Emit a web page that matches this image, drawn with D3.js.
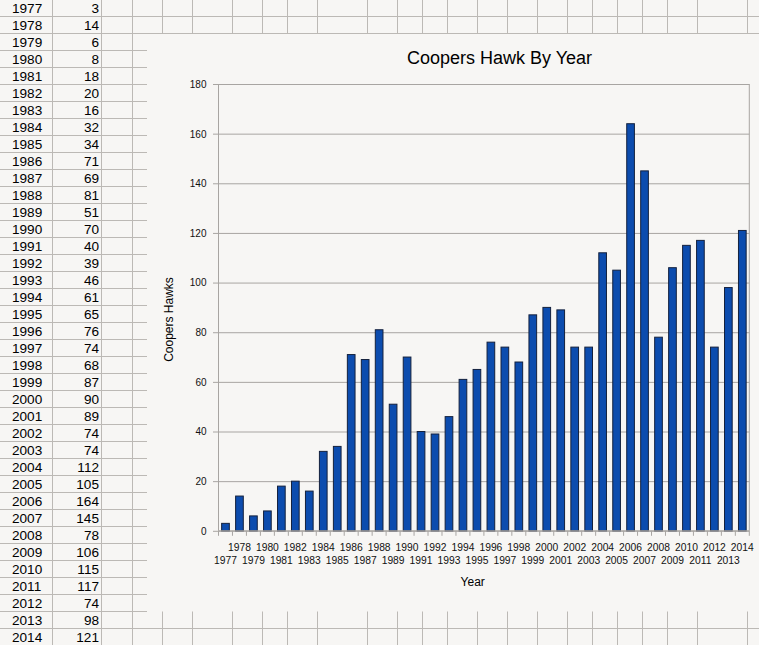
<!DOCTYPE html>
<html><head><meta charset="utf-8">
<script src="https://cdn.jsdelivr.net/npm/d3@7"></script>
<style>html,body{margin:0;padding:0;background:#f7f6f4;overflow:hidden}</style>
</head><body><svg id="c" width="759" height="645" style="display:block"></svg>
<script>
// ---- data ----
const years = [1977,1978,1979,1980,1981,1982,1983,1984,1985,1986,1987,1988,1989,1990,1991,1992,1993,1994,1995,1996,1997,1998,1999,2000,2001,2002,2003,2004,2005,2006,2007,2008,2009,2010,2011,2012,2013,2014];
const counts = [3,14,6,8,18,20,16,32,34,71,69,81,51,70,40,39,46,61,65,76,74,68,87,90,89,74,74,112,105,164,145,78,106,115,117,74,98,121];
const yTicks = [0,20,40,60,80,100,120,140,160,180];
const chartTitle = "Coopers Hawk By Year";
const xTitle = "Year";
const yTitle = "Coopers Hawks";

// ---- layout ----
const W = 759, H = 645;
const svg = d3.select("#c");
const FONT = "'Liberation Sans', Arial, Helvetica, sans-serif";
const gridCol = "#bcb9b5";
const rowH = 17, rowOff = 16.3;
const colEdges = [52,101,132,162,192,232,262,287,317,367,397,422,447,477,507,537,567,592,617,642,667,697,747];
const chartBox = {x0:147, y0:33.3, y1:611.5};

svg.append("rect").attr("width",W).attr("height",H).attr("fill","#f7f6f4");

// spreadsheet grid
const sheet = svg.append("g").attr("stroke",gridCol).attr("stroke-width",1);
for (let k = 0; k < 39; k++) {
  const yy = Math.round(rowOff + rowH*k) + 0.5;
  const full = (yy < chartBox.y0 + 1) || (yy > chartBox.y1 + 1);
  sheet.append("line").attr("x1",0).attr("x2", full ? W : chartBox.x0).attr("y1",yy).attr("y2",yy);
}
colEdges.forEach(cx => {
  const xx = Math.round(cx) + 0.5;
  if (cx < chartBox.x0) {
    sheet.append("line").attr("x1",xx).attr("x2",xx).attr("y1",0).attr("y2",H);
  } else {
    sheet.append("line").attr("x1",xx).attr("x2",xx).attr("y1",0).attr("y2",chartBox.y0);
    sheet.append("line").attr("x1",xx).attr("x2",xx).attr("y1",chartBox.y1).attr("y2",H);
  }
});
// cell texts
const cells = svg.append("g").attr("font-family",FONT).attr("font-size","13.6px").attr("fill","#000");
years.forEach((yr,i) => {
  const base = rowOff + rowH*(i-1) + 13.4;
  cells.append("text").attr("x",12).attr("y",base).text(yr);
  cells.append("text").attr("x",99).attr("y",base).attr("text-anchor","end").text(counts[i]);
});

// ---- chart ----
const plot = {l:218.5, r:749.3, t:84, b:530.8};
const x = d3.scaleBand().domain(years).range([plot.l, plot.r]).paddingInner(0.45).paddingOuter(0.225);
const y = d3.scaleLinear().domain([0,180]).range([plot.b, plot.t]);
const axisCol = "#a8a5a2";

// y axis with gridlines
const yAxis = d3.axisLeft(y).tickValues(yTicks).tickSizeInner(-(plot.r - 213)).tickSizeOuter(0).tickPadding(6.5);
const gy = svg.append("g").attr("transform","translate(213,0)").call(yAxis);
gy.select(".domain").remove();
gy.selectAll(".tick line").attr("stroke",axisCol);
gy.selectAll(".tick text").attr("font-family",FONT).attr("font-size","10px").attr("fill","#111").attr("dy","0.34em");

// axis lines / border
svg.append("line").attr("x1",plot.l).attr("x2",plot.l).attr("y1",plot.t).attr("y2",plot.b).attr("stroke",axisCol);
svg.append("line").attr("x1",plot.r).attr("x2",plot.r).attr("y1",plot.t).attr("y2",plot.b).attr("stroke",axisCol);

// bars
svg.append("g").selectAll("rect").data(years).join("rect")
  .attr("x", d => x(d))
  .attr("width", x.bandwidth())
  .attr("y", (d,i) => y(counts[i]))
  .attr("height", (d,i) => y(0) - y(counts[i]))
  .attr("fill","#0c4cae")
  .attr("stroke","#14213d")
  .attr("stroke-width",1);

// x axis: boundary ticks
const step = x.step();
const bounds = d3.range(years.length + 1).map(i => x.range()[0] + i*step);
svg.append("g").selectAll("line").data(bounds).join("line")
  .attr("x1",d=>d).attr("x2",d=>d).attr("y1",plot.b).attr("y2",plot.b+5).attr("stroke",axisCol);
svg.append("line").attr("x1",plot.l).attr("x2",plot.r).attr("y1",plot.b).attr("y2",plot.b).attr("stroke",axisCol);

// x labels (staggered)
const xAxis = d3.axisBottom(x).tickSize(0).tickPadding(0);
const gx = svg.append("g").attr("transform",`translate(0,${plot.b})`).call(xAxis);
gx.select(".domain").remove();
gx.selectAll(".tick text")
  .attr("font-family",FONT).attr("font-size","10.3px").attr("fill","#111")
  .attr("dy",null)
  .attr("y",(d,i) => i % 2 === 0 ? 32.9 : 20.2);

// titles
svg.append("text").attr("x",499.5).attr("y",63.5).attr("text-anchor","middle")
  .attr("font-family",FONT).attr("font-size","18px").attr("fill","#000").text(chartTitle);
svg.append("text").attr("x",472.7).attr("y",586).attr("text-anchor","middle")
  .attr("font-family",FONT).attr("font-size","12px").attr("fill","#000").text(xTitle);
svg.append("text").attr("transform","translate(172.5,319.5) rotate(-90)").attr("text-anchor","middle")
  .attr("font-family",FONT).attr("font-size","12px").attr("fill","#000").text(yTitle);
</script>
</body></html>
